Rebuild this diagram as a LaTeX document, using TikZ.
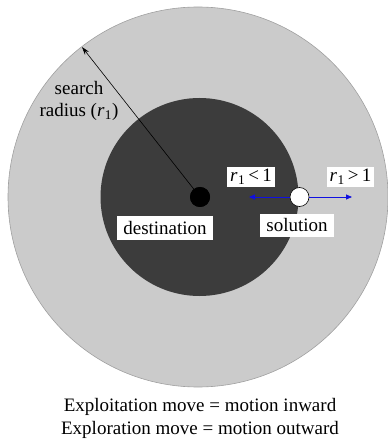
\documentclass[tikz,border=0pt]{standalone}
\usepackage{fontspec}
\setmainfont{Liberation Serif}
\usetikzlibrary{arrows.meta}
\definecolor{outerfill}{HTML}{CBCBCB}
\definecolor{outerline}{HTML}{A0A0A0}
\definecolor{innerfill}{HTML}{3C3C3C}
\definecolor{bluearrow}{HTML}{1010E0}
\tikzset{
  lbl/.style={fill=white, inner xsep=6pt, inner ysep=5pt, font=\fontsize{19}{22}\selectfont},
  rlbl/.style={fill=white, inner xsep=3pt, inner ysep=2.5pt, font=\fontsize{19}{22}\selectfont},
  plain/.style={font=\fontsize{19}{22.5}\selectfont, align=center, inner sep=0pt},
  blue arrow/.style={draw=bluearrow, line width=0.8pt, -{Triangle[length=6pt,width=5pt]}},
}
\newcommand{\rsub}{\textit{r}\kern0.5pt\textsubscript{1}}
\begin{document}
\begin{tikzpicture}[x=1pt,y=-1pt]
\useasboundingbox (0,0) rectangle (387,443);
% outer search region
\node[circle, draw=outerline, fill=outerfill, line width=0.6pt, minimum size=380pt, inner sep=0pt] (outer) at (198,197) {};
% inner region
\node[circle, fill=innerfill, minimum size=198pt, inner sep=0pt] (inner) at (199.5,197) {};
% search radius arrow
\coordinate (rtip) at (82,47);
\node[circle, fill=black, minimum size=20pt, inner sep=0pt] (dest) at (200,197) {};
\draw[black, line width=0.6pt, -{Stealth[length=8pt,width=5pt]}] (dest.center) -- (rtip);
\node[circle, fill=black, minimum size=20pt, inner sep=0pt] at (dest) {};
% solution
\node[circle, draw=black, fill=white, line width=0.6pt, minimum size=19pt, inner sep=0pt] (sol) at (299.5,197) {};
\coordinate (inend) at (249,197);
\coordinate (outend) at (352,197);
\draw[blue arrow] (sol.west) -- (inend);
\draw[blue arrow] (sol.east) -- (outend);
% labels
\node[rlbl] (rless) at (251,177) {\rsub\,<\,1};
\node[rlbl] (rmore) at (350.5,177) {\rsub\,>\,1};
\node[lbl] (destlbl) at (165,228) {destination};
\node[lbl] (sollbl) at (297,225.5) {solution};
\node[plain] (radlbl) at (79,101) {search\\radius (\rsub)};
\node[plain] (caption) at (200,418.5) {Exploitation move = motion inward\\Exploration move = motion outward};
\end{tikzpicture}
\end{document}
